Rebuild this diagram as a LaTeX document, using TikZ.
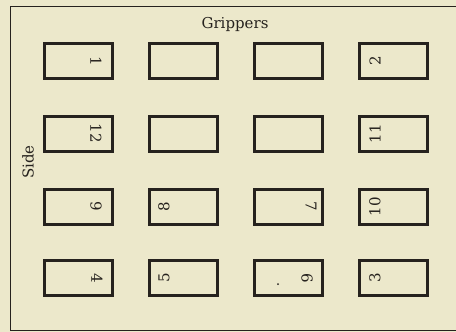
\documentclass[tikz,border=0pt]{standalone}
\usepackage{tikz}
\usetikzlibrary{positioning}
\usepackage{xcolor}
\usepackage{fontspec}
\setmainfont{DejaVu Serif}
\definecolor{paper}{RGB}{236,232,203}
\definecolor{ink}{RGB}{38,34,30}

\begin{document}
\begin{tikzpicture}[x=1pt,y=-1pt,
  font=\fontsize{15}{18}\selectfont,
  pagebox/.style={draw=ink,line width=3pt,minimum width=68pt,minimum height=35pt,inner sep=0pt},
  numcw/.style={ink,rotate=-90,inner sep=0pt},
  numccw/.style={ink,rotate=90,inner sep=0pt}]
\fill[paper] (0,0) rectangle (456,332);
\useasboundingbox (0,0) rectangle (456,332);
% sheet edges
\draw[ink,line width=0.9pt] (456,6) -- (10,6) -- (10,330) -- (456,330);
\node[ink] (grippers) at (235,24) {Grippers};
\node[ink,rotate=90] (side) at (28,162) {Side};
% row 1
\node[pagebox] (b1) at (78.5,61) {};
\node[pagebox] (b2) at (183.5,61) {};
\node[pagebox] (b3) at (288.5,61) {};
\node[pagebox] (b4) at (393.5,61) {};
% row 2
\node[pagebox] (b5) at (78.5,133.5) {};
\node[pagebox] (b6) at (183.5,133.5) {};
\node[pagebox] (b7) at (288.5,133.5) {};
\node[pagebox] (b8) at (393.5,133.5) {};
% row 3
\node[pagebox] (b9) at (78.5,206.5) {};
\node[pagebox] (b10) at (183.5,206.5) {};
\node[pagebox] (b11) at (288.5,206.5) {};
\node[pagebox] (b12) at (393.5,206.5) {};
% row 4
\node[pagebox] (b13) at (78.5,278) {};
\node[pagebox] (b14) at (183.5,278) {};
\node[pagebox] (b15) at (288.5,278) {};
\node[pagebox] (b16) at (393.5,278) {};
% page numbers
\node[numcw] (p1) at ([xshift=-18pt]b1.east) {1};
\node[numccw] (p2) at ([xshift=17pt]b4.west) {2};
\node[numcw] (p12) at ([xshift=-18pt]b5.east) {12};
\node[numccw] (p11) at ([xshift=17pt]b8.west) {11};
\node[numcw] (p9) at ([xshift=-18pt]b9.east) {9};
\node[numccw] (p8) at ([xshift=16pt]b10.west) {8};
\node[numcw] (p7) at ([xshift=-13pt]b11.east) {7};
\node[numccw] (p10) at ([xshift=17pt]b12.west) {10};
\node[numcw] (p4) at ([xshift=-17pt]b13.east) {4};
\node[numccw] (p5) at ([xshift=16pt]b14.west) {5};
\node[numcw] (p6) at ([xshift=-17pt]b15.east) {6};
\node[numccw] (p3) at ([xshift=17pt]b16.west) {3};
\fill[ink] (278,284) circle (1pt);
\end{tikzpicture}
\end{document}
